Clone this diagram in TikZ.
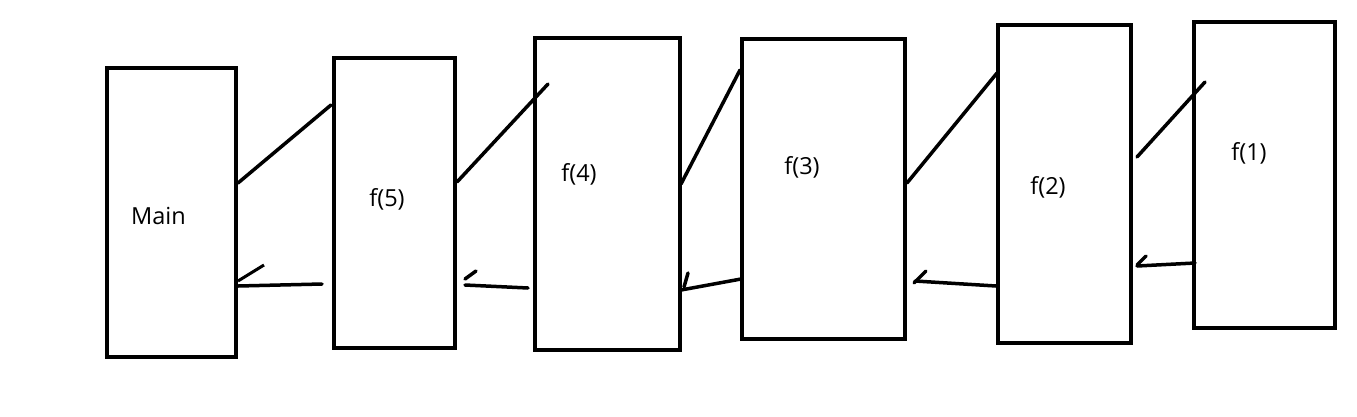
\documentclass[tikz,border=0pt]{standalone}
\usepackage{fontspec}
\setmainfont{Open Sans}
\begin{document}
\begin{tikzpicture}[x=1pt,y=-1pt,
  box/.style={draw,line width=4pt,rectangle,inner sep=0pt},
  lbl/.style={inner sep=0pt,font=\fontsize{23.5}{27}\selectfont},
  stroke/.style={line width=3.5pt,line cap=round}]
\useasboundingbox[fill=white] (0,0) rectangle (1357,416);
% boxes
\node[box,minimum width=129pt,minimum height=289pt] (b0) at (171.5,212.5) {};
\node[box,minimum width=121pt,minimum height=290pt] (b5) at (394.5,203) {};
\node[box,minimum width=145pt,minimum height=312pt] (b4) at (607.5,194) {};
\node[box,minimum width=163pt,minimum height=300pt] (b3) at (823.5,189) {};
\node[box,minimum width=133pt,minimum height=318pt] (b2) at (1064.5,184) {};
\node[box,minimum width=141pt,minimum height=306pt] (b1) at (1264.5,175) {};
% labels
\node[lbl] (t0) at (158.5,216) {Main};
\node[lbl] (t5) at (387,199) {f(5)};
\node[lbl] (t4) at (579,174) {f(4)};
\node[lbl] (t3) at (802,167) {f(3)};
\node[lbl] (t2) at (1048,187) {f(2)};
\node[lbl] (t1) at (1249,153) {f(1)};
% call lines
\coordinate (c0s) at (238,183); \coordinate (c0e) at (331,105);
\coordinate (c1s) at (457,182); \coordinate (c1e) at (548,84);
\coordinate (c2s) at (681,184); \coordinate (c2e) at (740,70);
\coordinate (c3s) at (907,183); \coordinate (c3e) at (997,73);
\coordinate (c4s) at (1137,157); \coordinate (c4e) at (1205,82);
\draw[stroke] (c0s) -- (c0e);
\draw[stroke] (c1s) -- (c1e);
\draw[stroke] (c2s) -- (c2e);
\draw[stroke] (c3s) -- (c3e);
\draw[stroke] (c4s) -- (c4e);
% return lines with hand-drawn ticks
\coordinate (r0s) at (322,284); \coordinate (r0e) at (238,286);
\coordinate (k0s) at (238,281); \coordinate (k0e) at (264,265);
\coordinate (r1s) at (528,288); \coordinate (r1e) at (465,285);
\coordinate (k1s) at (465,279); \coordinate (k1e) at (476,271);
\coordinate (r2s) at (741,279); \coordinate (r2e) at (681,290);
\coordinate (k2s) at (684,287); \coordinate (k2e) at (688,273);
\coordinate (r3s) at (996,286); \coordinate (r3e) at (915,281);
\coordinate (k3s) at (914,283); \coordinate (k3e) at (926,271);
\coordinate (r4s) at (1195,263); \coordinate (r4e) at (1137,266);
\coordinate (k4s) at (1137,265); \coordinate (k4e) at (1146,256);
\draw[stroke] (r0s) -- (r0e);
\draw[line width=3pt] (k0s) -- (k0e);
\draw[stroke] (r1s) -- (r1e);
\draw[stroke] (k1s) -- (k1e);
\draw[stroke] (r2s) -- (r2e);
\draw[stroke] (k2s) -- (k2e);
\draw[stroke] (r3s) -- (r3e);
\draw[stroke] (k3s) -- (k3e);
\draw[stroke] (r4s) -- (r4e);
\draw[stroke] (k4s) -- (k4e);
\end{tikzpicture}
\end{document}
